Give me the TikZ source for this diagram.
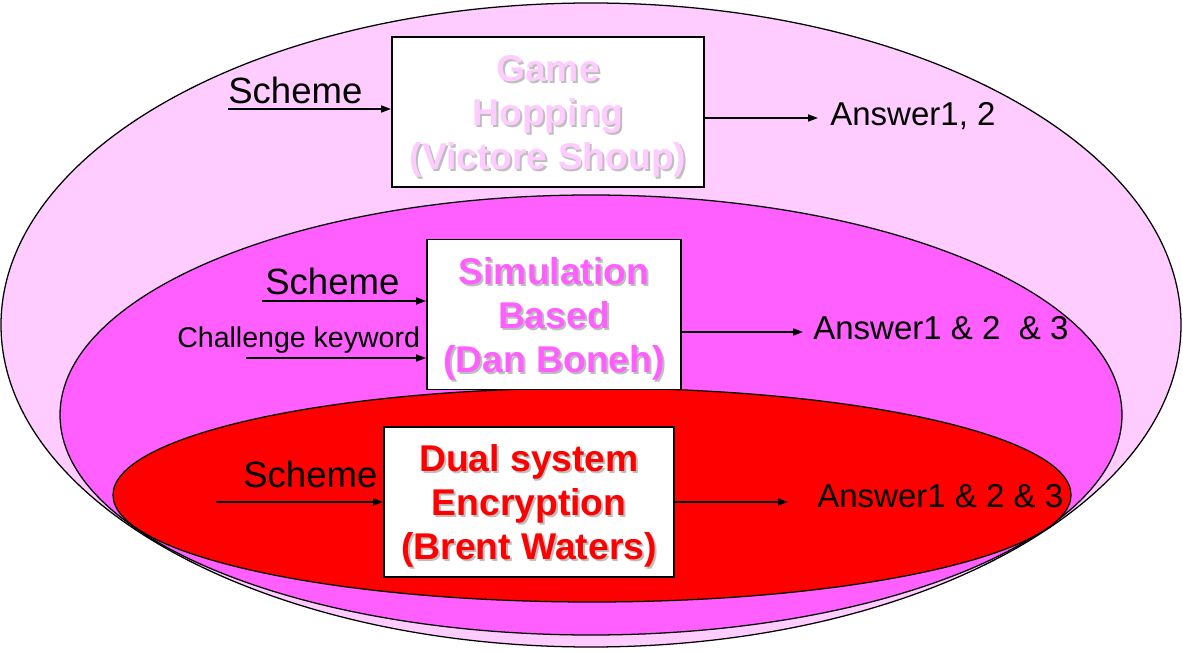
\documentclass[tikz,border=0pt]{standalone}
\usepackage{fontspec}
\setmainfont{Liberation Sans}
\usetikzlibrary{arrows.meta,calc}
\definecolor{OuterClr}{RGB}{255,204,255}
\definecolor{MiddleClr}{RGB}{255,95,255}
\definecolor{InnerClr}{RGB}{255,0,0}
\definecolor{ShadowClr}{RGB}{190,190,190}
\newcommand{\Shadowed}[1]{\leavevmode\rlap{\hspace{1.4pt}\raisebox{-1.4pt}{\color{ShadowClr}#1}}#1}
\newcommand{\MethodText}[3]{\raisebox{-3.6pt}[\height][\depth]{\begin{tabular}{@{}c@{}}\Shadowed{#1}\\\Shadowed{#2}\\\Shadowed{#3}\end{tabular}}}
\tikzset{
  region/.style={draw=black,line width=0.9pt},
  method/.style={draw=black,line width=1.4pt,fill=white,inner sep=0pt,
    minimum width=#1,minimum height=3.75cm,
    font=\fontsize{26.5}{31.3}\selectfont\bfseries},
  method/.default=7cm,
  inlabel/.style={inner sep=0pt,anchor=base west,font=\fontsize{26}{31}\selectfont},
  keylabel/.style={inner sep=0pt,anchor=base west,font=\fontsize{20.3}{24}\selectfont},
  answer/.style={inner sep=0pt,anchor=base west,font=\fontsize{23.5}{28}\selectfont},
  flow/.style={-{Triangle[length=7pt,width=5pt]},line width=1pt}
}

\begin{document}
\begin{tikzpicture}
\useasboundingbox (0,0) rectangle (29.575,16.3);
% nested regions
\filldraw[region,fill=OuterClr] (14.775,8.175) ellipse [x radius=14.75,y radius=8.05];
\filldraw[region,fill=MiddleClr] (14.775,5.925) ellipse [x radius=13.275,y radius=5.5];
\filldraw[region,fill=InnerClr] (14.8,3.925) ellipse [x radius=11.975,y radius=2.675];
% methods
\node[method=7.8cm,text=OuterClr] (GH) at (13.7,13.5)
  {\MethodText{Game}{Hopping}{(Victore Shoup)}};
\node[method=6.35cm,text=MiddleClr] (SB) at (13.85,8.4375)
  {\MethodText{Simulation}{Based}{(Dan Boneh)}};
\node[method=7.25cm,text=InnerClr] (DS) at (13.225,3.75)
  {\MethodText{Dual system}{Encryption}{(Brent Waters)}};
% game hopping
\node[inlabel] (GHl) at (5.7,13.7) {Scheme};
\coordinate (GHs) at (5.7,13.575);
\draw[flow] (GHs) -- (GHs -| GH.west);
\coordinate (GHe) at (20.45,13.35);
\draw[flow] (GHe -| GH.east) -- (GHe);
\node[answer] (GHa) at (20.75,13.15) {Answer1,\ 2};
% simulation based
\node[inlabel] (SBl) at (6.625,8.925) {Scheme};
\coordinate (SBs) at (6.55,8.775);
\draw[flow] (SBs) -- (SBs -| SB.west);
\node[keylabel] (SBk) at (4.425,7.6) {Challenge keyword};
\coordinate (SBc) at (6.15,7.35);
\draw[flow] (SBc) -- (SBc -| SB.west);
\coordinate (SBe) at (20.075,8.0);
\draw[flow] (SBe -| SB.east) -- (SBe);
\node[answer] (SBa) at (20.325,7.8) {Answer1 \& 2\ \ \& 3};
% dual system
\node[inlabel] (DSl) at (6.075,4.1) {Scheme};
\coordinate (DSs) at (5.4,3.75);
\draw[flow] (DSs) -- (DSs -| DS.west);
\coordinate (DSe) at (19.7,3.75);
\draw[flow] (DSe -| DS.east) -- (DSe);
\node[answer] (DSa) at (20.425,3.625) {Answer1 \& 2 \& 3};
\end{tikzpicture}
\end{document}
